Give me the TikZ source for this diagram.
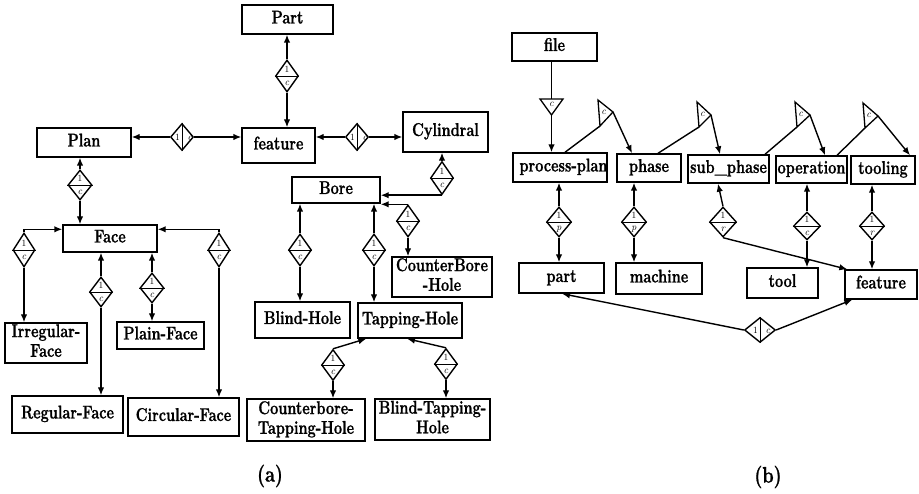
\documentclass[tikz,border=0pt]{standalone}
\usepackage{fontspec}
\usetikzlibrary{shapes.geometric,arrows.meta}

% heavy bold face for box labels
\newfontfamily\entfont{Latin Modern Roman}[BoldFeatures={FakeBold=1.2}]
% tall label text, one or more lines
\newcommand\tx[1]{\scalebox{1}[1.27]{\begin{tabular}{@{}c@{}}#1\end{tabular}}}

% vertical relationship diamond: name, position, size options, lower label
\newcommand\relv[4]{%
  \node[rel,#3] (#1) at (#2) {};
  \draw[rule] (#1.west) -- (#1.east);
  \node[rlab,font=\fontsize{9.5}{9.5}\selectfont] (#1-hi) at ([yshift=6.5pt]#1.center) {1};
  \node[rlab] (#1-lo) at ([yshift=-7pt]#1.center) {#4};
}
% horizontal relationship diamond: name, position, size options
\newcommand\relh[3]{%
  \node[rel,#3] (#1) at (#2) {};
  \draw[rule] (#1.north) -- (#1.south);
  \node[rlab,font=\fontsize{9.5}{9.5}\selectfont] (#1-l) at ([xshift=-4.5pt]#1.center) {1};
  \node[rlab] (#1-r) at ([xshift=8pt,yshift=-1pt]#1.center) {c};
}
% composition triangle: name, top vertex, bottom vertex, right vertex
\newcommand\comptri[4]{%
  \coordinate (#1-t) at (#2);
  \coordinate (#1-b) at (#3);
  \coordinate (#1-r) at (#4);
  \draw[tribox] (#1-t) -- (#1-r) -- (#1-b) -- cycle;
  \node[rlab] (#1-c) at (barycentric cs:#1-t=1,#1-b=1,#1-r=1) {c};
}

\begin{document}
\begin{tikzpicture}[x=1pt,y=-1pt,
  ent/.style={draw, line width=1.4pt, inner sep=0pt, align=center,
    font=\entfont\bfseries\fontsize{14.5}{15.5}\selectfont},
  rel/.style={draw, diamond, inner sep=0pt, line width=1.4pt},
  rule/.style={line width=0.9pt},
  rlab/.style={inner sep=0pt, font=\itshape\fontsize{10}{10}\selectfont},
  conn/.style={line width=1.4pt, -{Latex[length=8pt,width=6.5pt]}},
  link/.style={line width=1.4pt},
  tribox/.style={line width=1.3pt, line join=miter},
  subcap/.style={inner sep=0pt, font=\entfont\bfseries\fontsize{14.5}{15.5}\selectfont}
]
\useasboundingbox (0,0) rectangle (919,494);

% ---------------- (a) feature hierarchy ----------------
\node[ent, minimum width=91pt, minimum height=29pt] (Part) at (287.5,19.5) {\tx{Part}};
\node[ent, minimum width=73pt, minimum height=35pt] (featA) at (278.5,145.5) {\tx{feature}};
\node[ent, minimum width=94pt, minimum height=29pt] (Plan) at (84,142.5) {\tx{Plan}};
\node[ent, minimum width=85pt, minimum height=40pt] (Cyl) at (445.5,132) {\tx{Cylindral}};
\node[ent, minimum width=94pt, minimum height=27pt] (Face) at (110,238.5) {\tx{Face}};
\node[ent, minimum width=82pt, minimum height=40pt] (IrrF) at (46,343) {\tx{Irregular-\\Face}};
\node[ent, minimum width=111pt, minimum height=37pt] (RegF) at (67.5,414.5) {\tx{Regular-Face}};
\node[ent, minimum width=87pt, minimum height=27pt] (PlF) at (160.5,335.5) {\tx{Plain-Face}};
\node[ent, minimum width=111pt, minimum height=38pt] (CirF) at (183.5,417) {\tx{Circular-Face}};
\node[ent, minimum width=88pt, minimum height=26pt] (Bore) at (336,190) {\tx{Bore}};
\node[ent, minimum width=100pt, minimum height=40pt] (CBH) at (442,277) {\tx{CounterBore\\-Hole}};
\node[ent, minimum width=95pt, minimum height=36pt] (BlH) at (302.5,320) {\tx{Blind-Hole}};
\node[ent, minimum width=104pt, minimum height=35pt] (TpH) at (410,320.5) {\tx{Tapping-Hole}};
\node[ent, minimum width=118pt, minimum height=42pt] (CTH) at (306,420) {\tx{Counterbore-\\Tapping-Hole}};
\node[ent, minimum width=115pt, minimum height=41pt] (BTH) at (432.5,419.5) {\tx{Blind-Tapping-\\Hole}};

\relv{rPart}{287,76}{minimum width=23pt,minimum height=32pt}{c}
\draw[conn] (rPart.north) -- (rPart.north |- Part.south);
\draw[conn] (rPart.south) -- (rPart.south |- featA.north);

\relh{rPlan}{182,137}{minimum width=23pt,minimum height=27pt}
\draw[conn] (rPlan.west) -- (rPlan.west -| Plan.east);
\draw[conn] (rPlan.east) -- (rPlan.east -| featA.west);

\relh{rCyl}{357,137}{minimum width=23pt,minimum height=27pt}
\draw[conn] (rCyl.west) -- (rCyl.west -| featA.east);
\draw[conn] (rCyl.east) -- (rCyl.east -| Cyl.west);

\relv{rFace}{80,185}{minimum width=24pt,minimum height=30pt}{c}
\draw[conn] (rFace.north) -- (rFace.north |- Plan.south);
\draw[conn] (rFace.south) -- (rFace.south |- Face.north);

\relv{rIrr}{24,250}{minimum width=22pt,minimum height=34pt}{c}
\draw[conn] (rIrr.north) |- ([yshift=-5pt]Face.north west);
\draw[conn] (rIrr.south) -- (rIrr.south |- IrrF.north);

\relv{rCir}{219,250}{minimum width=22pt,minimum height=34pt}{c}
\draw[conn] (rCir.north) |- ([yshift=-5pt]Face.north east);
\draw[conn] (rCir.south) -- (rCir.south |- CirF.north);

\relv{rReg}{101,292}{minimum width=23pt,minimum height=30pt}{c}
\draw[conn] (rReg.north) -- (rReg.north |- Face.south);
\draw[conn] (rReg.south) -- (rReg.south |- RegF.north);

\relv{rPl}{152,288}{minimum width=24pt,minimum height=30pt}{c}
\draw[conn] (rPl.north) -- (rPl.north |- Face.south);
\draw[conn] (rPl.south) -- (rPl.south |- PlF.north);

\relv{rBore}{442,178}{minimum width=23pt,minimum height=33pt}{c}
\draw[conn] (rBore.north) -- (rBore.north |- Cyl.south);
\draw[conn] (rBore.south) -- (rBore.south -| Bore.east);

\relv{rCBH}{408,221}{minimum width=23pt,minimum height=32pt}{c}
\draw[conn] (rCBH.north) -- (rCBH.north -| Bore.east);
\draw[conn] (rCBH.south) -- (rCBH.south |- CBH.north);

\relv{rBlH}{300,250}{minimum width=23pt,minimum height=32pt}{c}
\draw[conn] (rBlH.north) -- (rBlH.north |- Bore.south);
\draw[conn] (rBlH.south) -- (rBlH.south |- BlH.north);

\relv{rTpH}{374,250}{minimum width=23pt,minimum height=32pt}{c}
\draw[conn] (rTpH.north) -- (rTpH.north |- Bore.south);
\draw[conn] (rTpH.south) -- (rTpH.south |- TpH.north);

\relv{rCTH}{333,365}{minimum width=23pt,minimum height=31pt}{c}
\draw[conn] (rCTH.north) -- ([xshift=9pt]TpH.south west);
\draw[conn] (rCTH.south) -- (rCTH.south |- CTH.north);

\relv{rBTH}{446,364}{minimum width=23pt,minimum height=31pt}{c}
\draw[conn] (rBTH.north) -- ([xshift=-3pt]TpH.south);
\draw[conn] (rBTH.south) -- (rBTH.south |- BTH.north);

\node[subcap] (capA) at (270,476) {\scalebox{1.25}[1.55]{(a)}};

% ---------------- (b) process plan structure ----------------
\node[ent, minimum width=85pt, minimum height=28pt] (file) at (554.5,47) {\tx{file}};
\node[ent, minimum width=94pt, minimum height=29pt] (pplan) at (560,167.5)
  {\tx{\makebox[94pt][l]{\hspace{6.5pt}process-plan}}};
\node[ent, minimum width=64pt, minimum height=28pt] (phase) at (649,168) {\tx{phase}};
\node[ent, minimum width=81pt, minimum height=28pt] (subph) at (728.5,169) {\tx{sub\_phase}};
\node[ent, minimum width=71pt, minimum height=27pt] (oper) at (811.5,169.5) {\tx{operation}};
\node[ent, minimum width=64pt, minimum height=28pt] (tooling) at (883,170) {\tx{tooling}};
\node[ent, minimum width=85pt, minimum height=30pt] (partB) at (561.5,278) {\tx{part}};
\node[ent, minimum width=86pt, minimum height=31pt] (mach) at (659,278.5) {\tx{machine}};
\node[ent, minimum width=71pt, minimum height=30pt] (tool) at (782.5,283) {\tx{tool}};
\node[ent, minimum width=72pt, minimum height=29pt] (featB) at (881,284.5) {\tx{feature}};

% file composes the process plan
\coordinate (t0-l) at (540,99);
\coordinate (t0-r) at (563,99);
\coordinate (t0-b) at (551.5,115);
\coordinate (t0-n) at (551.5,99);
\draw[tribox] (t0-l) -- (t0-r) -- (t0-b) -- cycle;
\node[rlab] (t0-c) at (551.5,104.5) {c};
\draw[link] (t0-n |- file.south) -- (t0-n);
\draw[conn] (t0-b) -- (t0-b |- pplan.north);

% chain of compositions
\comptri{t1}{598,100}{600,126}{613,112}
\draw[link] ([xshift=5pt]pplan.north) -- (t1-b);
\draw[conn] (t1-r) -- ([xshift=-17pt]phase.north);

\comptri{t2}{697,102}{699,127}{711,115}
\draw[link] ([xshift=9pt]phase.north) -- (t2-b);
\draw[conn] (t2-r) -- ([xshift=-8.5pt]subph.north);

\comptri{t3}{795,102}{797,127}{810,115}
\draw[link] ([xshift=36.5pt]subph.north) -- (t3-b);
\draw[conn] (t3-r) -- ([xshift=13.5pt]oper.north);

\comptri{t4}{863,103}{865,128}{878,116}
\draw[link] ([xshift=25.5pt]oper.north) -- (t4-b);
\draw[conn] (t4-r) -- ([xshift=27pt]tooling.north);

% one-to-many relationships
\relv{rpp}{559,222}{minimum width=25pt,minimum height=30pt}{p}
\draw[conn] (rpp.north) -- (rpp.north |- pplan.south);
\draw[conn] (rpp.south) -- (rpp.south |- partB.north);

\relv{rph}{634,222}{minimum width=25pt,minimum height=30pt}{p}
\draw[conn] (rph.north) -- (rph.north |- phase.south);
\draw[conn] (rph.south) -- (rph.south |- mach.north);

\relv{rsub}{723,222}{minimum width=27pt,minimum height=30pt}{r}
\draw[conn] (rsub.north) -- ([xshift=-10.5pt]subph.south);
\draw[conn] (rsub.south) -- ([xshift=3pt]featB.north west);

\relv{rop}{807,226}{minimum width=27pt,minimum height=28pt}{c}
\draw[conn] (rop.north) -- (rop.north |- oper.south);
\draw[conn] (rop.south) -- (rop.south |- tool.north);

\relv{rtl}{872,226}{minimum width=25pt,minimum height=28pt}{r}
\draw[conn] (rtl.north) -- (rtl.north |- tooling.south);
\draw[conn] (rtl.south) -- (rtl.south |- featB.north);

\relh{rpf}{760,330}{minimum width=31pt,minimum height=25pt}
\draw[conn] (rpf.west) -- ([xshift=0.5pt]partB.south);
\draw[conn] (rpf.east) -- ([xshift=8pt]featB.south west);

\node[subcap] (capB) at (768,477) {\scalebox{1.25}[1.55]{(b)}};
\end{tikzpicture}
\end{document}
